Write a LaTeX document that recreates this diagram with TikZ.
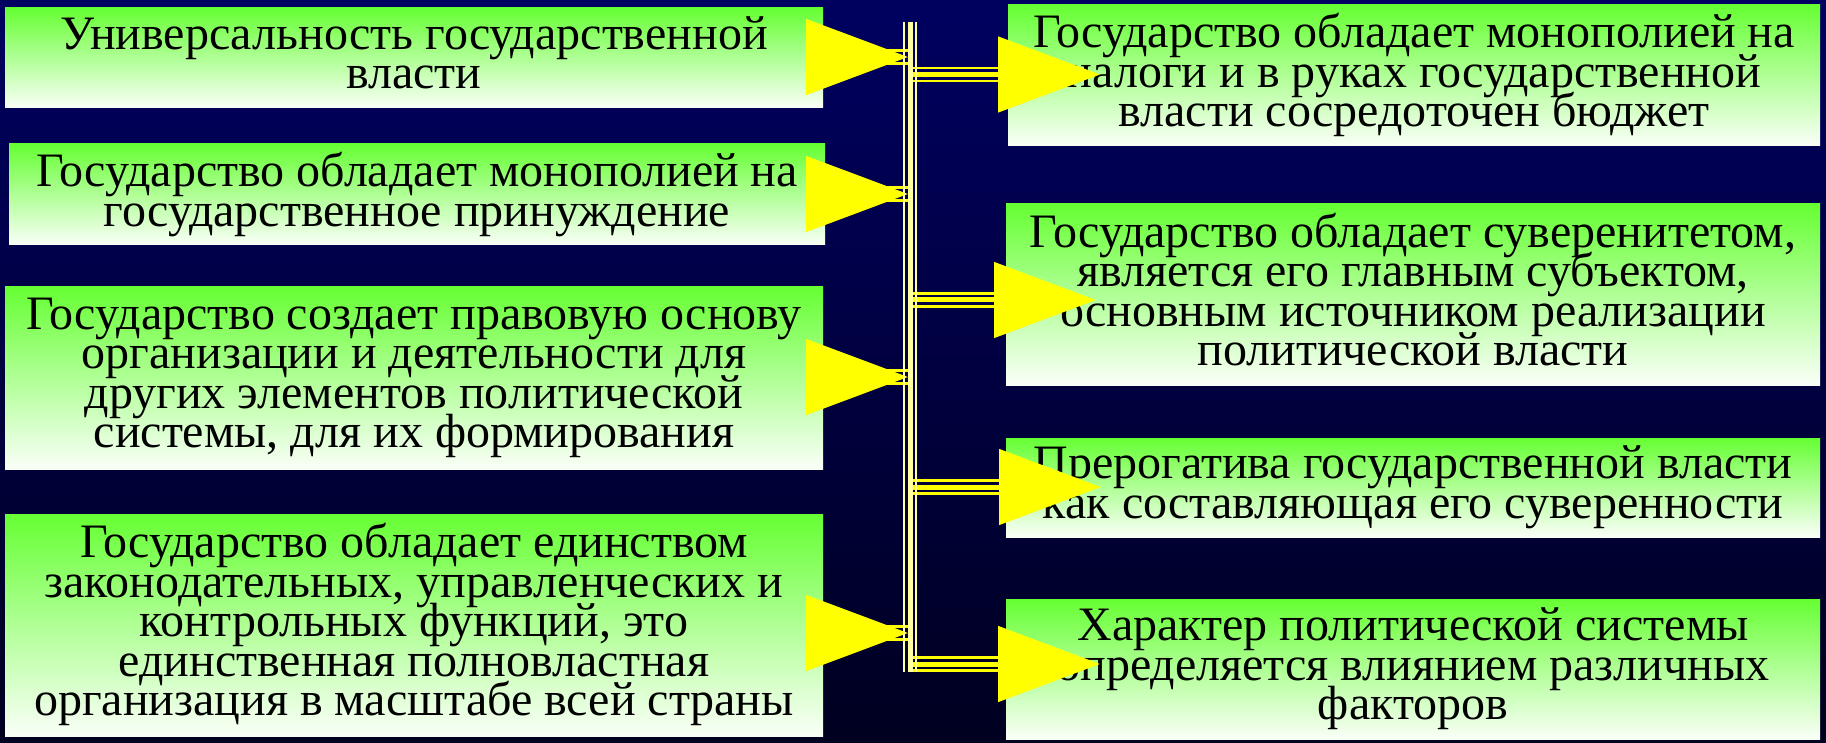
\documentclass[tikz,border=0pt]{standalone}
\usepackage{fontspec}
\setmainfont{Liberation Serif}
\usetikzlibrary{arrows.meta}
\definecolor{bgtop}{RGB}{0,0,96}
\definecolor{bgmid}{RGB}{0,0,82}
\definecolor{bgbot}{RGB}{0,0,32}
\definecolor{boxgreen}{RGB}{102,255,51}
\definecolor{boxwhite}{RGB}{250,255,248}
\definecolor{barcol}{RGB}{255,255,160}
\definecolor{arrcol}{RGB}{255,255,0}
\newcommand{\boxfont}{\fontsize{24}{19.75}\selectfont\lineskiplimit=-100pt\relax}
\begin{document}
\begin{tikzpicture}[x=0.5pt,y=-0.5pt,
  box/.style={inner sep=0pt, align=center, text=black, text depth=5.3pt,
    font=\boxfont,
    top color=boxgreen, bottom color=boxwhite},
  hconnL/.style={draw=arrcol, line width=2.5pt, -{Triangle[length=51pt,width=37.5pt]},
    preaction={draw=arrcol, -, line width=1.25pt, transform canvas={yshift=3.25pt}},
    preaction={draw=arrcol, -, line width=1.25pt, transform canvas={yshift=-3.25pt}}},
  hconnR/.style={draw=arrcol, line width=2.5pt, -{Triangle[length=51pt,width=37.5pt]},
    preaction={draw=arrcol, -, line width=1.25pt, shorten >=50pt, transform canvas={yshift=3.25pt}},
    preaction={draw=arrcol, -, line width=1.25pt, shorten >=50pt, transform canvas={yshift=-3.25pt}}},
  barline/.style={draw=barcol, line width=2.5pt,
    preaction={draw=barcol, line width=1.15pt, transform canvas={xshift=3pt}},
    preaction={draw=barcol, line width=1.15pt, transform canvas={xshift=-3pt}}}
]
% background
\shade[top color=bgtop, middle color=bgmid, bottom color=bgbot] (0,0) rectangle (1826,743);

% left boxes
\node[box, minimum width=409pt, minimum height=50pt] (L1) at (414,58)
  {Универсальность государственной\\власти};
\node[box, minimum width=408pt, minimum height=50.5pt] (L2) at (417,194.5)
  {Государство обладает монополией на\\государственное принуждение};
\node[box, minimum width=409pt, minimum height=91pt] (L3) at (414,378)
  {Государство создает правовую основу\\организации и деятельности для\\других элементов политической\\системы, для их формирования};
\node[box, minimum width=409pt, minimum height=111pt] (L4) at (414,625)
  {Государство обладает единством\\законодательных, управленческих и\\контрольных функций, это\\единственная полновластная\\организация в масштабе всей страны};

% right boxes
\node[box, minimum width=406pt, minimum height=70.5pt] (R1) at (1414,75.5)
  {Государство обладает монополией на\\налоги и в руках государственной\\власти сосредоточен бюджет};
\node[box, minimum width=407pt, minimum height=90.5pt] (R2) at (1413,294.5)
  {Государство обладает суверенитетом,\\является его главным субъектом,\\основным источником реализации\\политической власти};
\node[box, minimum width=407pt, minimum height=49.5pt] (R3) at (1413,487.5)
  {Прерогатива государственной власти\\как составляющая его суверенности};
\node[box, minimum width=407pt, minimum height=70pt] (R4) at (1413,669)
  {Характер политической системы\\определяется влиянием различных\\факторов};

% bar ends and arrow tips
\coordinate (bt) at (910,22);
\coordinate (bb) at (910,672);
\coordinate (l1) at (908,57);
\coordinate (l2) at (908,194);
\coordinate (l3) at (908,377);
\coordinate (l4) at (908,633);
\coordinate (r1) at (1100,74.5);
\coordinate (r2) at (1096,300);
\coordinate (r3) at (1101,487);
\coordinate (r4) at (1100,664);

% connectors
\draw[hconnL] (L1.east |- l1) -- (l1);
\draw[hconnL] (L2.east |- l2) -- (l2);
\draw[hconnL] (L3.east |- l3) -- (l3);
\draw[hconnL] (L4.east |- l4) -- (l4);
\draw[hconnR] (bt |- r1) -- (r1);
\draw[hconnR] (bt |- r2) -- (r2);
\draw[hconnR] (bt |- r3) -- (r3);
\draw[hconnR] (bt |- r4) -- (r4);

% vertical triple bar
\draw[barline] (bt) -- (bb);
\end{tikzpicture}
\end{document}
